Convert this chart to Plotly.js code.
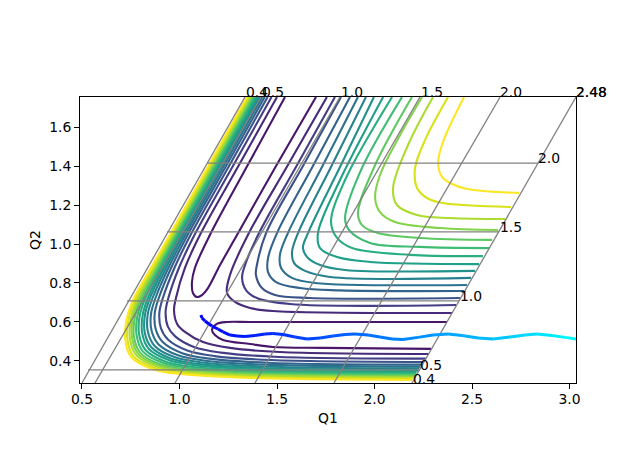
<!DOCTYPE html>
<html><head><meta charset="utf-8">
<script src="https://cdn.plot.ly/plotly-3.0.1.min.js"></script>
<style>html,body{margin:0;padding:0;background:#fff}</style></head>
<body><div id="chart" style="width:640px;height:476px"></div>
<script>
// viridis-coloured contour levels
const levelColors = ["#440154","#481769","#472a7a","#433e85","#3b528b","#33638d","#2c728e","#26828e","#21918c","#1fa088","#28ae80","#3fbc73","#5ec962","#84d44b","#addc30","#d8e219","#fde725"];

// strands: [level, Q1 values, Q2 values]
const u1x=[1.541,1.350,1.156,1.079,1.064,1.069,1.090,1.115,1.146,1.208,1.295,1.498,1.700];
const u1y=[1.754,1.405,1.046,.877,.805,.749,.728,.738,.774,.892,1.046,1.405,1.754];
const c1x=[2.372,1.772,1.362,1.244,1.192,1.167,1.182,1.223,1.362,1.479,1.736,2.290];
const c1y=[.600,.600,.600,.600,.590,.559,.533,.508,.487,.472,.467,.462];

const up2x=[1.756,1.556,1.356,1.259,1.244,1.285,1.362,1.479,2.397], up2y=[1.754,1.405,1.056,.841,.749,.703,.672,.656,.646];
const up3x=[1.797,1.603,1.408,1.336,1.321,1.341,1.397,1.567,2.418], up3y=[1.754,1.405,1.056,.892,.826,.764,.723,.692,.687];
const up4x=[1.828,1.636,1.444,1.397,1.392,1.423,1.490,1.669,2.438], up4y=[1.754,1.405,1.056,.892,.841,.774,.738,.723,.723];
const up5x=[1.874,1.687,1.500,1.454,1.454,1.495,1.618,1.823,2.459], up5y=[1.754,1.405,1.056,.928,.856,.805,.774,.762,.759];
const up6x=[1.915,1.736,1.556,1.515,1.521,1.577,1.695,2.474], up6y=[1.754,1.405,1.056,.944,.877,.826,.800,.790];
const up7x=[1.956,1.782,1.608,1.577,1.587,1.644,1.772,2.495], up7y=[1.754,1.405,1.056,.959,.903,.862,.831,.826];
const up8x=[1.997,1.828,1.659,1.633,1.659,1.721,1.849,2.515], up8y=[1.754,1.405,1.056,.979,.928,.892,.867,.862];
const up9x=[2.044,1.823,1.710,1.721,1.808,1.977,2.536], up9y=[1.754,1.328,1.056,.979,.933,.908,.897];
const up10x=[2.090,1.849,1.777,1.808,1.885,2.182,2.556], up10y=[1.754,1.328,1.113,1.031,.979,.944,.938];
const up11x=[2.141,1.926,1.849,1.869,1.977,2.233,2.587], up11y=[1.754,1.369,1.133,1.072,1.005,.985,.979];
const up12x=[2.192,2.003,1.915,1.936,2.018,2.233,2.603], up12y=[1.754,1.405,1.159,1.097,1.056,1.031,1.021];
const up13x=[2.244,2.131,2.028,2.003,2.028,2.105,2.336,2.633], up13y=[1.754,1.559,1.354,1.236,1.164,1.113,1.082,1.072];
const up14x=[2.300,2.172,2.095,2.115,2.218,2.387,2.669], up14y=[1.754,1.508,1.287,1.200,1.149,1.133,1.128];
const up15x=[2.377,2.259,2.208,2.218,2.269,2.351,2.700], up15y=[1.754,1.533,1.390,1.287,1.236,1.210,1.190];
const up16x=[2.459,2.351,2.326,2.346,2.387,2.474,2.741], up16y=[1.754,1.523,1.415,1.344,1.313,1.282,1.262];

const lo2x=[1.500,1.305,1.110,1.028,.982,.972,.988,1.028,1.121,1.259,1.515,2.279], lo2y=[1.754,1.405,1.056,.877,.723,.660,.590,.549,.497,.467,.446,.436];
const lo3x=[1.472,1.277,1.082,.997,.943,.929,.940,.978,1.074,1.213,1.487,2.263], lo3y=[1.754,1.405,1.056,.877,.723,.653,.577,.526,.472,.443,.422,.412];
const lo4x=[1.452,1.257,1.062,.974,.915,.897,.905,.942,1.040,1.180,1.468,2.252], lo4y=[1.754,1.405,1.056,.877,.723,.648,.568,.509,.454,.425,.405,.395];
const lo5x=[1.437,1.242,1.047,.957,.894,.873,.879,.914,1.014,1.154,1.452,2.243], lo5y=[1.754,1.405,1.056,.877,.723,.644,.560,.497,.440,.412,.391,.381];
const lo6x=[1.425,1.230,1.035,.943,.877,.854,.857,.892,.993,1.134,1.440,2.236], lo6y=[1.754,1.405,1.056,.877,.723,.641,.555,.486,.429,.401,.381,.371];
const lo7x=[1.414,1.219,1.024,.931,.862,.837,.838,.873,.974,1.116,1.429,2.230], lo7y=[1.754,1.405,1.056,.877,.723,.638,.550,.477,.420,.392,.372,.362];
const lo8x=[1.405,1.210,1.015,.920,.849,.823,.822,.856,.959,1.100,1.420,2.225], lo8y=[1.754,1.405,1.056,.877,.723,.636,.545,.470,.411,.384,.364,.354];
const lo9x=[1.397,1.202,1.007,.911,.838,.811,.809,.842,.945,1.087,1.412,2.221], lo9y=[1.754,1.405,1.056,.877,.723,.634,.542,.463,.405,.377,.357,.347];
const lo10x=[1.388,1.193,.998,.901,.825,.796,.793,.826,.930,1.072,1.403,2.215], lo10y=[1.754,1.405,1.056,.877,.723,.632,.537,.456,.396,.369,.349,.339];
const lo11x=[1.380,1.185,.990,.892,.814,.784,.780,.812,.917,1.059,1.396,2.211], lo11y=[1.754,1.405,1.056,.877,.723,.630,.534,.449,.389,.362,.342,.332];
const lo12x=[1.372,1.177,.982,.884,.804,.772,.766,.798,.904,1.047,1.388,2.207], lo12y=[1.754,1.405,1.056,.877,.723,.628,.530,.443,.382,.356,.336,.326];
const lo13x=[1.366,1.171,.976,.877,.795,.762,.756,.787,.893,1.036,1.382,2.203], lo13y=[1.754,1.405,1.056,.877,.723,.626,.527,.438,.377,.350,.330,.320];
const lo14x=[1.360,1.165,.970,.870,.786,.753,.745,.776,.883,1.026,1.376,2.200], lo14y=[1.754,1.405,1.056,.877,.723,.625,.524,.433,.371,.345,.325,.315];
const lo15x=[1.352,1.157,.962,.861,.776,.741,.732,.762,.869,1.013,1.368,2.195], lo15y=[1.754,1.405,1.056,.877,.723,.623,.521,.426,.365,.338,.318,.308];
const lo16x=[1.346,1.151,.956,.854,.767,.731,.721,.751,.859,1.003,1.362,2.192], lo16y=[1.754,1.405,1.056,.877,.723,.621,.518,.421,.359,.333,.313,.303];

const strands=[
 [1,u1x,u1y],[1,c1x,c1y],
 [2,up2x,up2y],[3,up3x,up3y],[4,up4x,up4y],[5,up5x,up5y],[6,up6x,up6y],[7,up7x,up7y],[8,up8x,up8y],
 [9,up9x,up9y],[10,up10x,up10y],[11,up11x,up11y],[12,up12x,up12y],[13,up13x,up13y],[14,up14x,up14y],[15,up15x,up15y],[16,up16x,up16y],
 [2,lo2x,lo2y],[3,lo3x,lo3y],[4,lo4x,lo4y],[5,lo5x,lo5y],[6,lo6x,lo6y],[7,lo7x,lo7y],[8,lo8x,lo8y],
 [9,lo9x,lo9y],[10,lo10x,lo10y],[11,lo11x,lo11y],[12,lo12x,lo12y],[13,lo13x,lo13y],[14,lo14x,lo14y],[15,lo15x,lo15y],[16,lo16x,lo16y]
];

// skewed reference grid
const gridSegments=[
 [[.5,1.336],[.287,1.754]],[[.567,1.418],[.287,1.754]],[[.977,1.823],[.287,1.754]],
 [[1.387,2.233],[.287,1.754]],[[1.792,2.644],[.287,1.754]],[[2.192,3.033],[.287,1.754]],
 [[.531,2.231],[.354,.354]],[[.731,2.433],[.708,.708]],[[.936,2.636],[1.062,1.062]],[[1.141,2.838],[1.415,1.415]]
];

// trajectory
const trajQ1=[1.110,1.115,1.131,1.151,1.167,1.197,1.223,1.259,1.295,1.336,1.387,1.438,1.479,1.531,1.592,1.654,1.721,1.787,1.849,1.900,1.967,2.028,2.090,2.146,2.223,2.300,2.377,2.449,2.531,2.608,2.695,2.772,2.833,2.910,2.977,3.033];
const trajQ2=[.636,.621,.605,.590,.579,.564,.549,.533,.528,.526,.531,.538,.541,.536,.523,.513,.518,.528,.536,.538,.533,.523,.513,.510,.521,.533,.538,.531,.518,.513,.523,.533,.538,.531,.521,.513];

// grid labels: text, Q1, Q2
const labelText=["0.4","0.5","1.0","1.5","2.0","2.48","0.4","0.5","1.0","1.5","2.0","2.48"];
const labelQ1=[1.336,1.418,1.823,2.234,2.639,3.03,2.192,2.228,2.433,2.639,2.833,3.03];
const labelQ2=[1.745,1.745,1.745,1.745,1.745,1.745,.308,.379,.733,1.085,1.441,1.745];

const traces=[];
for(const [k,x,y] of strands){
  traces.push({x,y,type:'scatter',mode:'lines',hoverinfo:'skip',
    line:{color:levelColors[k],width:2.1,shape:'spline',smoothing:1}});
}
for(const [x,y] of gridSegments){
  traces.push({x,y,type:'scatter',mode:'lines',hoverinfo:'skip',line:{color:'#808080',width:1.3}});
}
const q1Start=trajQ1[0], q1End=trajQ1[trajQ1.length-1];
for(let i=0;i<trajQ1.length-1;i++){
  const g=Math.round(255*(trajQ1[i]-q1Start)/(q1End-q1Start));
  traces.push({x:[trajQ1[i],trajQ1[i+1]],y:[trajQ2[i],trajQ2[i+1]],type:'scatter',mode:'lines',hoverinfo:'skip',
    line:{color:`rgb(0,${g},255)`,width:3}});
}
const annotations=labelText.map((t,i)=>({text:t,x:labelQ1[i],y:labelQ2[i],xref:'x',yref:'y',showarrow:false,
  xanchor:'left',yanchor:'middle',borderpad:0,yshift:i<6||i===11?7:0,
  font:{family:'DejaVu Sans',size:13.9,color:'#000'}}));

const axis={showgrid:false,zeroline:false,showline:true,mirror:true,linecolor:'#000',linewidth:1,
  ticks:'outside',ticklen:4.9,tickwidth:1,tickcolor:'#000',tickfont:{family:'DejaVu Sans',size:13.9,color:'#000'}};
Plotly.newPlot('chart',traces,{
  width:640,height:476,showlegend:false,paper_bgcolor:'#fff',plot_bgcolor:'#fff',hovermode:false,
  margin:{l:80,r:64,t:97,b:93,pad:0},
  font:{family:'DejaVu Sans',size:13.9,color:'#000'},
  xaxis:{...axis,range:[.49,3.033],tick0:.5,dtick:.5,tickformat:'.1f',ticklabelstandoff:-2,title:{text:'Q1',font:{family:'DejaVu Sans',size:13.9,color:'#000'},standoff:7}},
  yaxis:{...axis,range:[.287,1.754],tick0:.4,dtick:.2,tickformat:'.1f',title:{text:'Q2',font:{family:'DejaVu Sans',size:13.9,color:'#000'},standoff:5}},
  annotations
},{staticPlot:true,displayModeBar:false});
</script></body></html>
